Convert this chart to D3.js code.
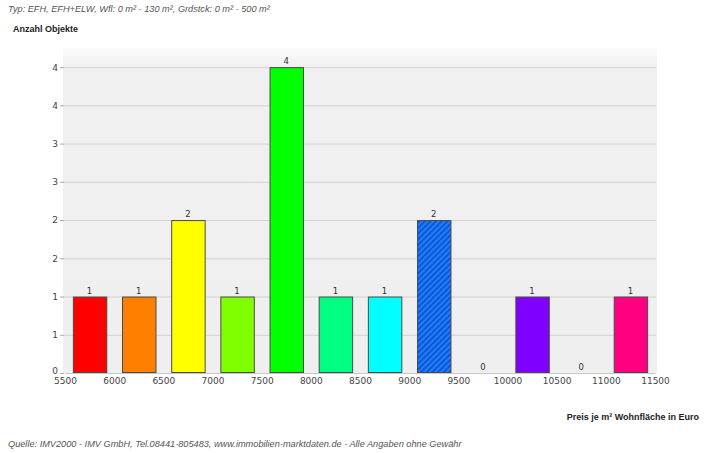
<!DOCTYPE html>
<html>
<head>
<meta charset="utf-8">
<script src="https://cdn.jsdelivr.net/npm/d3@7"></script>
<style>
  body { margin: 0; background: #fff; }
  svg { display: block; }
  .note { font-family: "Liberation Sans", Arial, sans-serif; font-size: 9.2px; font-style: italic; fill: #555; }
  .axisTitle { font-family: "Liberation Sans", Arial, sans-serif; font-size: 9px; font-weight: bold; fill: #222; }
  .tick text { font-family: "DejaVu Sans", sans-serif; font-size: 9px; fill: #444; }
  .barLabel { font-family: "DejaVu Sans", sans-serif; font-size: 8.5px; fill: #333; }
</style>
</head>
<body>
<div id="chart"></div>
<script>
// bins of 500 Euro per m²
var binStarts = [5500, 6000, 6500, 7000, 7500, 8000, 8500, 9000, 9500, 10000, 10500, 11000];
var counts = [1, 1, 2, 1, 4, 1, 1, 2, 0, 1, 0, 1];
var barColors = ["#ff0000", "#ff8000", "#ffff00", "#80ff00", "#00ff00", "#00ff80",
                 "#00ffff", "url(#hatch)", null, "#8000ff", null, "#ff0080"];
var xTicks = [5500, 6000, 6500, 7000, 7500, 8000, 8500, 9000, 9500, 10000, 10500, 11000, 11500];
var yTicks = [0, 0.5, 1, 1.5, 2, 2.5, 3, 3.5, 4];

var binWidth = 500;
var svgWidth = 707;
var svgHeight = 453;

var svg = d3.select("#chart")
  .append("svg")
  .attr("width", svgWidth)
  .attr("height", svgHeight);

var x = d3.scaleLinear().domain([5500, 11500]).range([65, 655]);
var y = d3.scaleLinear().domain([0, 4.25]).range([373, 48]);

var defs = svg.append("defs");

// hatched fill for the highlighted bar
var hatch = defs.append("pattern")
  .attr("id", "hatch")
  .attr("patternUnits", "userSpaceOnUse")
  .attr("width", 4)
  .attr("height", 4)
  .attr("patternTransform", "rotate(45)");
hatch.append("rect").attr("width", 4).attr("height", 4).attr("fill", "#1f7cff");
hatch.append("rect").attr("width", 1.6).attr("height", 4).attr("fill", "#0a4fc4");

var bgGrad = defs.append("linearGradient")
  .attr("id", "bgGrad")
  .attr("x1", 0).attr("y1", 0).attr("x2", 0).attr("y2", 1);
bgGrad.append("stop").attr("offset", "0").attr("stop-color", "#fbfbfb");
bgGrad.append("stop").attr("offset", "0.06").attr("stop-color", "#f0f0f0");
bgGrad.append("stop").attr("offset", "1").attr("stop-color", "#efefef");

// plot background
svg.append("rect")
  .attr("x", x.range()[0] - 2)
  .attr("y", y.range()[1])
  .attr("width", x.range()[1] - x.range()[0] + 4)
  .attr("height", y.range()[0] - y.range()[1])
  .attr("fill", "url(#bgGrad)");

// y axis with gridlines
var leftAxis = d3.axisLeft(y)
  .tickValues(yTicks)
  .tickFormat(d => Math.round(d))
  .tickSize(4)
  .tickPadding(2);

var yAxis = svg.append("g")
  .attr("transform", `translate(${x.range()[0] - 1}, 0)`)
  .call(leftAxis);
yAxis.select(".domain").remove();
yAxis.selectAll(".tick line").attr("stroke", "#aaa");
// the zero label sits a little above the baseline, as in the original
yAxis.selectAll(".tick text").filter(d => d === 0).attr("dy", "0.1em");

svg.append("g")
  .selectAll("line")
  .data(yTicks.filter(d => d > 0))
  .enter()
  .append("line")
  .attr("x1", x.range()[0] - 1)
  .attr("x2", x.range()[1] + 1)
  .attr("y1", d => y(d) + 0.5)
  .attr("y2", d => y(d) + 0.5)
  .attr("stroke", "#d2d2d2");

// x axis
var bottomAxis = d3.axisBottom(x)
  .tickValues(xTicks)
  .tickFormat(d3.format("d"))
  .tickSize(0)
  .tickPadding(5);

var xAxis = svg.append("g")
  .attr("transform", `translate(0, ${y(0)})`)
  .call(bottomAxis);
xAxis.select(".domain").attr("stroke", "#c8c8c8");

// bars
var bars = binStarts.map((b, i) => ({ start: b, count: counts[i], color: barColors[i] }));

svg.append("g")
  .selectAll("rect")
  .data(bars.filter(d => d.count > 0))
  .enter()
  .append("rect")
  .attr("x", d => x(d.start + binWidth * 0.16) + 0.5)
  .attr("y", d => y(d.count) + 0.5)
  .attr("width", d => x(d.start + binWidth * 0.84) - x(d.start + binWidth * 0.16))
  .attr("height", d => y(0) - y(d.count) - 1)
  .attr("fill", d => d.color)
  .attr("stroke", "#4a4a4a")
  .attr("stroke-width", 1);

// value labels
svg.append("g")
  .selectAll("text")
  .data(bars)
  .enter()
  .append("text")
  .attr("class", "barLabel")
  .attr("x", d => x(d.start + binWidth / 2))
  .attr("y", d => y(d.count) - 3)
  .attr("text-anchor", "middle")
  .text(d => d.count);

// texts
svg.append("text")
  .attr("class", "note")
  .attr("x", 8)
  .attr("y", 12)
  .text("Typ: EFH, EFH+ELW, Wfl: 0 m² - 130 m², Grdstck: 0 m² - 500 m²");

svg.append("text")
  .attr("class", "axisTitle")
  .attr("x", 13)
  .attr("y", 32)
  .text("Anzahl Objekte");

svg.append("text")
  .attr("class", "axisTitle")
  .attr("x", 699)
  .attr("y", 420)
  .attr("text-anchor", "end")
  .text("Preis je m² Wohnfläche in Euro");

svg.append("text")
  .attr("class", "note")
  .attr("x", 8)
  .attr("y", 447)
  .text("Quelle: IMV2000 - IMV GmbH, Tel.08441-805483, www.immobilien-marktdaten.de - Alle Angaben ohne Gewähr");
</script>
</body>
</html>
